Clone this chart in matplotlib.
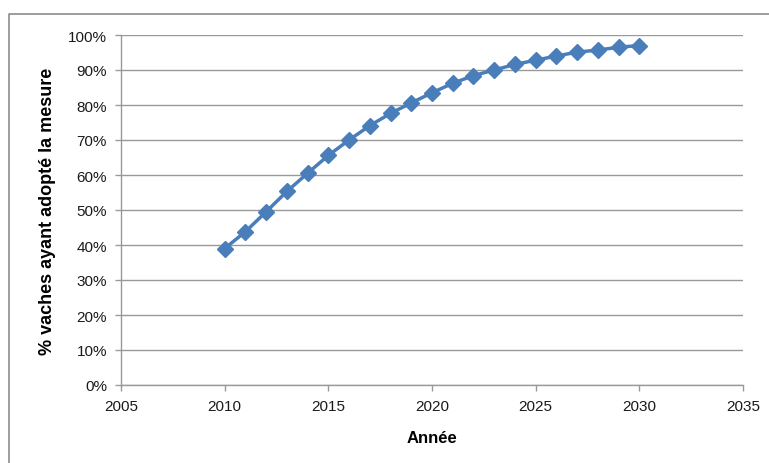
import matplotlib.pyplot as plt
from matplotlib.lines import Line2D
from matplotlib.ticker import FuncFormatter

# Valeurs
annees = list(range(2010, 2031))
adoption = [39.0, 43.8, 49.5, 55.3, 60.5, 65.6, 70.0, 74.1, 77.6, 80.6, 83.5,
            86.2, 88.4, 90.0, 91.6, 92.8, 94.0, 95.1, 95.7, 96.5, 97.0]

xticks = [2005, 2010, 2015, 2020, 2025, 2030, 2035]
yticks = list(range(0, 101, 10))

plt.rcParams['font.family'] = ['Liberation Sans', 'DejaVu Sans']

W, H = 769, 464
fig = plt.figure(figsize=(W / 100, H / 100), dpi=100)
ax = fig.add_axes([121 / W, (H - 386) / H, (743 - 121) / W, (386 - 36) / H])

ax.plot(annees, adoption, color='#4A7EBB', linewidth=2.5, marker='D',
        markersize=8, markerfacecolor='#4A7EBB', markeredgecolor='#4A7EBB',
        zorder=3)

ax.set_xlim(2005, 2035)
ax.set_ylim(0, 100)
ax.set_xticks(xticks)
ax.set_yticks(yticks)
ax.yaxis.set_major_formatter(FuncFormatter(lambda v, p: f'{int(v)}%'))

ax.grid(axis='y', color='#999999', linewidth=1)
ax.set_axisbelow(True)
for s in ['top', 'right']:
    ax.spines[s].set_visible(False)
for s in ['left', 'bottom']:
    ax.spines[s].set_color('#999999')
    ax.spines[s].set_linewidth(1)
ax.tick_params(direction='out', length=4, width=1, color='#999999',
               labelsize=11, labelcolor='#1a1a1a', pad=6)

ax.set_xlabel('Année', fontsize=12, fontweight='bold', labelpad=12)
ax.set_ylabel('% vaches ayant adopté la mesure', fontsize=13,
              fontweight='bold', labelpad=9)

# cadre gris du graphique (haut et gauche)
fig.add_artist(Line2D([9 / W, 9 / W, 1], [0, 1 - 15 / H, 1 - 15 / H],
                      transform=fig.transFigure, color='#8C8C8C', linewidth=1.2))

fig.savefig('out.png', dpi=100)
